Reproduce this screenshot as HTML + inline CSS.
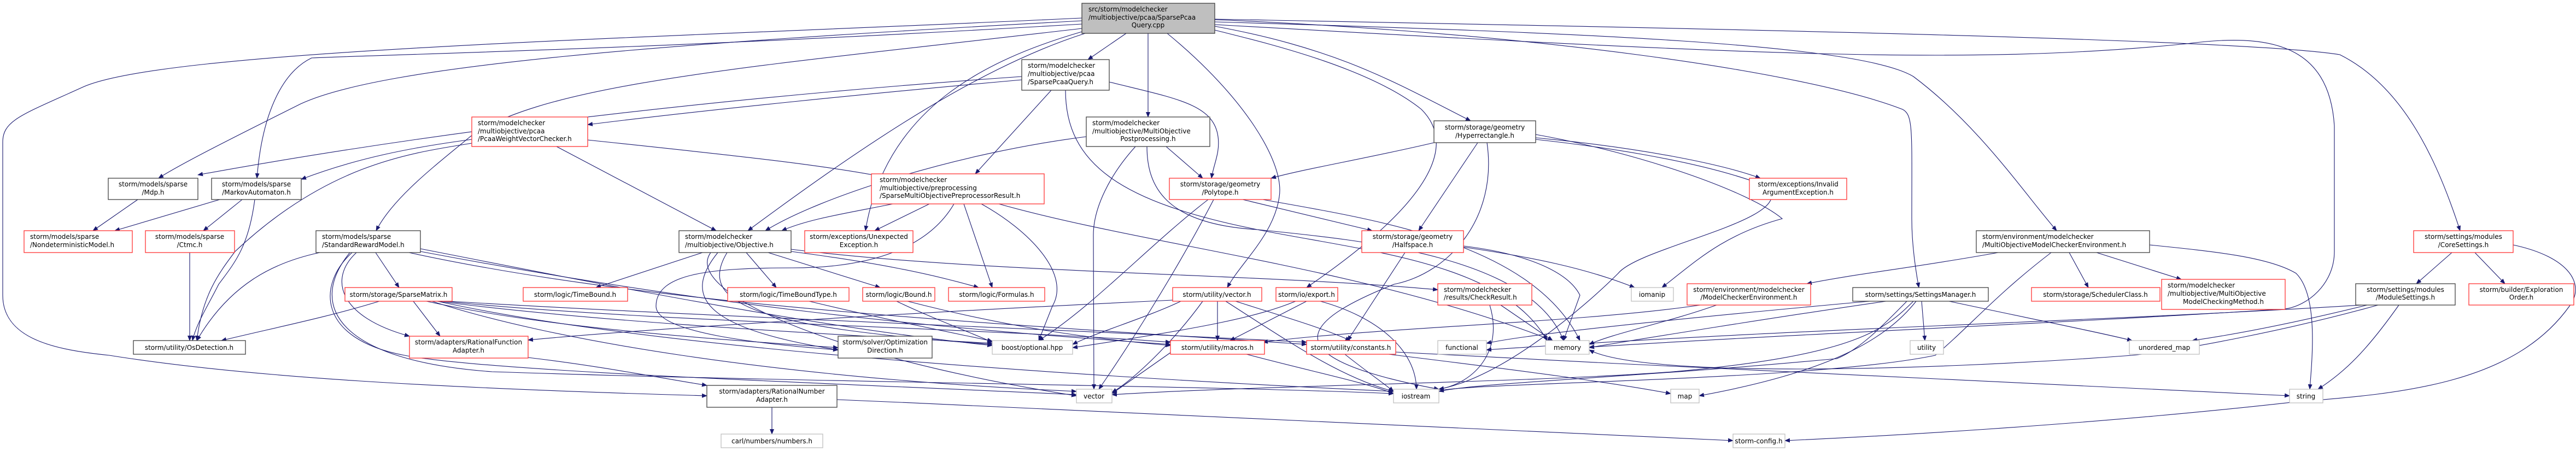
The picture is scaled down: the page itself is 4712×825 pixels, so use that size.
<!DOCTYPE html>
<html><head><meta charset="utf-8"><style>
html,body{margin:0;padding:0;background:#fff;}
svg{display:block;}
text{font-family:"DejaVu Sans","Liberation Sans",sans-serif;font-size:12px;fill:#000;}
.e{fill:none;stroke:#191970;stroke-width:1.1;marker-end:url(#a);}
.b{fill:#fff;stroke:#404040;stroke-width:1.3;}
.r{fill:#fff;stroke:#ff3333;stroke-width:1.3;}
.g{fill:#fff;stroke:#bfbfbf;stroke-width:1.3;}
</style></head><body>
<svg width="4712" height="825" viewBox="0 0 4712 825" xmlns="http://www.w3.org/2000/svg">
<defs><marker id="a" markerWidth="10" markerHeight="8" refX="9" refY="4" orient="auto" markerUnits="userSpaceOnUse"><path d="M0,0 L10,4 L0,8 z" fill="#191970"/></marker></defs>
<g>
<!-- root edges -->
<path class="e" d="M2060,61 L1990,109"/>
<path class="e" d="M2100,61 L2100,214"/>
<path class="e" d="M2135,61 C2280,180 2350,300 2340,360 C2330,430 2270,480 2245,526"/>
<path class="e" d="M2222,48 C2450,90 2550,150 2690,221"/>
<path class="e" d="M1985,61 C1800,120 1600,250 1368,422"/>
<path class="e" d="M1979,58 C1800,110 1620,200 1583,422"/>
<path class="e" d="M1979,38 C1200,80 700,120 550,190 C430,250 330,300 290,326"/>
<path class="e" d="M1979,44 C1200,90 700,100 570,106 C520,130 480,200 470,326"/>
<path class="e" d="M1979,52 C1400,120 1000,150 860,250 C800,300 720,360 688,422"/>
<path class="e" d="M1979,33 C1200,70 300,90 150,160 C40,210 5,220 5,260 L5,540 C5,620 100,640 200,650 C450,690 800,710 1293,724"/>
<path class="e" d="M2222,36 C2800,60 3300,130 3480,200 C3500,210 3497,240 3497,400 C3497,450 3505,500 3510,526"/>
<path class="e" d="M2222,40 C2900,60 3400,80 3500,140 C3620,230 3700,350 3762,422"/>
<path class="e" d="M2222,35 C3000,50 4100,70 4280,100 C4400,160 4460,300 4500,422"/>
<path class="e" d="M2222,45 C3200,100 3600,120 4000,80 C4150,60 4260,80 4270,230 L4270,460 C4270,520 4220,560 4180,565 C3800,590 3300,610 2907,635"/>
<path class="e" d="M2222,55 C2300,75 2500,120 2600,200 C2700,300 2500,450 2390,526"/>
<!-- SparsePcaaQuery -->
<path class="e" d="M1869,146 C1600,170 1300,200 1075,228"/>
<path class="e" d="M1923,165 L1784,318"/>
<path class="e" d="M2029,150 C2150,180 2220,190 2228,250 C2232,280 2220,300 2216,326"/>
<path class="e" d="M1949,165 C1949,300 2050,370 2300,420 C2500,460 2750,480 2830,623"/>
<path class="e" d="M1869,140 C1300,180 800,240 362,320"/>
<!-- PcaaWeightVectorChecker -->
<path class="e" d="M1018,268 L1310,422"/>
<path class="e" d="M1075,256 C1300,280 1500,300 1623,325"/>
<path class="e" d="M863,255 C750,270 650,290 551,328"/>
<path class="e" d="M863,262 C750,280 600,300 430,460 C400,500 370,540 360,623"/>
<!-- Postprocessing -->
<path class="e" d="M2133,268 L2200,326"/>
<path class="e" d="M2077,268 C2030,320 2000,380 2000,430 L2001,712"/>
<path class="e" d="M1987,250 C1750,280 1500,360 1400,422"/>
<path class="e" d="M2098,268 C2098,340 2130,410 2300,420 C2500,440 2800,470 2860,623"/>
<!-- Preprocessor -->
<path class="e" d="M1700,373 L1600,422"/>
<path class="e" d="M1763,373 L1815,526"/>
<path class="e" d="M1795,373 C1880,420 1960,500 1925,560 L1900,623"/>
<path class="e" d="M1633,373 C1550,390 1480,400 1430,422"/>
<path class="e" d="M1827,373 C2100,450 2500,490 2840,623"/>
<path class="e" d="M1745,373 C1700,450 1600,490 1450,490 C1300,490 1200,500 1200,560 C1200,610 1400,630 1533,640"/>
<!-- Polytope -->
<path class="e" d="M2273,365 L2510,422"/>
<path class="e" d="M2210,365 C2100,450 2000,560 1900,623"/>
<path class="e" d="M2220,365 C2150,500 2060,640 2010,712"/>
<path class="e" d="M2310,365 C2500,400 2800,440 2890,623"/>
<!-- Hyperrectangle -->
<path class="e" d="M2703,261 L2595,422"/>
<path class="e" d="M2623,261 C2500,290 2380,310 2325,326"/>
<path class="e" d="M2809,252 C3000,270 3150,300 3220,326"/>
<path class="e" d="M2720,261 C2740,400 2650,500 2550,520 C2400,580 2300,650 2632,712"/>
<path class="e" d="M2809,246 C3000,280 3200,350 3260,400 C3150,430 3100,480 3040,526"/>
<path class="e" d="M2809,255 C2900,265 3100,290 3230,340 C3300,400 3000,450 2960,500 C2900,560 2750,690 2632,712"/>
<!-- Halfspace -->
<path class="e" d="M2570,462 L2465,623"/>
<path class="e" d="M2677,452 C2800,470 2900,490 2990,526"/>
<path class="e" d="M2677,450 C2800,465 2870,500 2890,540 L2860,623"/>
<!-- Objective -->
<path class="e" d="M1285,462 L1090,526"/>
<path class="e" d="M1365,462 L1420,526"/>
<path class="e" d="M1405,462 L1610,526"/>
<path class="e" d="M1313,462 C1250,540 1280,600 1533,640"/>
<path class="e" d="M1330,462 C1270,560 1400,600 1815,630"/>
<path class="e" d="M1447,456 C1800,500 2300,500 2630,530"/>
<path class="e" d="M1300,462 C1250,530 1500,650 1969,724"/>
<path class="e" d="M1447,460 C1600,480 1700,500 1790,526"/>
<!-- StandardRewardModel -->
<path class="e" d="M687,462 L730,526"/>
<path class="e" d="M585,462 C500,480 420,520 360,623"/>
<path class="e" d="M652,462 C600,510 620,580 749,615"/>
<path class="e" d="M644,462 C580,520 580,620 740,650 C900,680 1500,700 1969,722"/>
<path class="e" d="M769,455 C1100,520 1500,600 1815,632"/>
<path class="e" d="M748,462 C1200,560 1800,590 2390,630"/>
<path class="e" d="M769,460 C1300,560 1700,600 2141,630"/>
<path class="e" d="M640,462 C560,560 620,660 900,680 C1500,700 2200,705 2549,720"/>
<!-- SparseMatrix -->
<path class="e" d="M694,551 C600,580 500,600 405,623"/>
<path class="e" d="M756,551 L805,615"/>
<path class="e" d="M780,551 C1000,600 1300,620 1533,636"/>
<path class="e" d="M800,551 C1100,590 1500,610 1815,628"/>
<path class="e" d="M810,551 C1200,590 1800,600 2141,626"/>
<path class="e" d="M820,551 C1300,580 1900,600 2390,626"/>
<path class="e" d="M790,551 C1000,620 1400,690 1969,716"/>
<path class="e" d="M800,551 C1200,640 2000,690 2549,716"/>
<!-- Markov / Mdp / Ctmc -->
<path class="e" d="M402,365 L210,422"/>
<path class="e" d="M443,365 L372,422"/>
<path class="e" d="M466,365 C455,450 430,480 400,520 C380,560 360,590 352,623"/>
<path class="e" d="M252,365 L170,422"/>
<path class="e" d="M347,462 L347,623"/>
<!-- Rational -->
<path class="e" d="M966,654 C1100,670 1200,690 1293,705"/>
<path class="e" d="M1412,745 L1412,794"/>
<path class="e" d="M1531,731 C2200,760 2900,790 3170,806"/>
<!-- vector.h -->
<path class="e" d="M2160,551 C2100,580 2000,610 1962,630"/>
<path class="e" d="M2227,551 L2227,623"/>
<path class="e" d="M2260,551 C2350,580 2420,600 2470,623"/>
<path class="e" d="M2242,551 C2350,620 2450,690 2549,716"/>
<path class="e" d="M2200,551 C2150,620 2080,690 2034,718"/>
<path class="e" d="M2145,549 C1700,570 1200,600 966,622"/>
<!-- export.h -->
<path class="e" d="M2390,551 L2250,623"/>
<path class="e" d="M2370,551 C2300,580 2200,600 1962,636"/>
<path class="e" d="M2415,551 C2520,580 2590,640 2591,712"/>
<!-- CheckResult -->
<path class="e" d="M2725,558 C2750,640 2700,700 2632,712"/>
<path class="e" d="M2745,558 L2840,623"/>
<!-- constants / macros -->
<path class="e" d="M2540,648 C2800,680 2950,700 3056,720"/>
<path class="e" d="M2553,644 C3200,680 4000,710 4188,724"/>
<path class="e" d="M2460,648 C2500,680 2530,700 2549,716"/>
<path class="e" d="M2280,648 C2400,680 2500,700 2549,720"/>
<path class="e" d="M2141,645 L2034,720"/>
<!-- MOMCE -->
<path class="e" d="M3655,462 C3500,490 3400,500 3305,519"/>
<path class="e" d="M3785,462 L3820,526"/>
<path class="e" d="M3835,462 L3990,511"/>
<path class="e" d="M3932,448 C4050,460 4150,470 4200,500 C4240,540 4230,650 4225,712"/>
<path class="e" d="M3752,462 C3650,540 3600,600 3540,650 C3300,700 2600,700 2632,718"/>
<!-- ModelCheckerEnvironment -->
<path class="e" d="M3140,558 C3050,590 2950,610 2907,630"/>
<path class="e" d="M3110,558 C2900,590 2500,600 2310,626"/>
<!-- SettingsManager -->
<path class="e" d="M3515,551 L3521,623"/>
<path class="e" d="M3565,551 C3700,580 3850,610 3900,623"/>
<path class="e" d="M3450,551 C3250,580 3000,620 2907,636"/>
<path class="e" d="M3420,551 C3100,580 2800,610 2719,628"/>
<path class="e" d="M3500,551 C3450,600 3400,650 3060,680 C2800,700 2300,705 2034,722"/>
<path class="e" d="M3505,551 C3450,620 3350,680 3108,724"/>
<path class="e" d="M3488,551 C3440,600 3400,640 3360,656 C3000,690 2700,700 2632,716"/>
<!-- CoreSettings -->
<path class="e" d="M4485,462 L4420,519"/>
<path class="e" d="M4527,462 L4582,519"/>
<path class="e" d="M4597,448 C4700,470 4730,520 4700,560 C4600,700 4400,720 4200,735 C3800,780 3400,800 3265,806"/>
<!-- ModuleSettings -->
<path class="e" d="M4388,558 C4330,640 4290,680 4240,712"/>
<path class="e" d="M4330,558 C4200,590 4100,610 4010,623"/>
<path class="e" d="M4350,558 C4200,600 4000,640 3900,650 C3500,680 3000,690 2907,640"/>
<path class="e" d="M4320,558 C3800,590 3300,600 2719,640"/>
<!-- Bound / TimeBoundType -->
<path class="e" d="M1660,551 C1850,600 2000,620 2141,632"/>
<path class="e" d="M1640,551 C1700,580 1780,610 1815,626"/>
<path class="e" d="M1480,551 C1600,580 1700,600 1815,624"/>
</g>
<!-- nodes -->
<g>
<rect x="1979" y="6" width="243" height="55" fill="#bfbfbf" stroke="#404040" stroke-width="1.3"/>
<text x="1991" y="21">src/storm/modelchecker</text><text x="1991" y="36">/multiobjective/pcaa/SparsePcaa</text><text x="2100" y="50" text-anchor="middle">Query.cpp</text>

<rect class="b" x="1869" y="109" width="160" height="56"/>
<text x="1880" y="124">storm/modelchecker</text><text x="1880" y="139">/multiobjective/pcaa</text><text x="1880" y="154">/SparsePcaaQuery.h</text>

<rect class="b" x="1987" y="214" width="226" height="54"/>
<text x="1998" y="229">storm/modelchecker</text><text x="1998" y="244">/multiobjective/MultiObjective</text><text x="2100" y="258" text-anchor="middle">Postprocessing.h</text>

<rect class="r" x="863" y="214" width="212" height="54"/>
<text x="874" y="229">storm/modelchecker</text><text x="874" y="244">/multiobjective/pcaa</text><text x="874" y="258">/PcaaWeightVectorChecker.h</text>

<rect class="b" x="2623" y="221" width="186" height="40"/>
<text x="2716" y="237" text-anchor="middle">storm/storage/geometry</text><text x="2716" y="252" text-anchor="middle">/Hyperrectangle.h</text>

<rect class="r" x="1594" y="318" width="316" height="55"/>
<text x="1609" y="333">storm/modelchecker</text><text x="1609" y="348">/multiobjective/preprocessing</text><text x="1609" y="362">/SparseMultiObjectivePreprocessorResult.h</text>

<rect class="b" x="198" y="326" width="164" height="39"/>
<text x="280" y="341" text-anchor="middle">storm/models/sparse</text><text x="280" y="356" text-anchor="middle">/Mdp.h</text>

<rect class="b" x="387" y="326" width="164" height="39"/>
<text x="469" y="341" text-anchor="middle">storm/models/sparse</text><text x="469" y="356" text-anchor="middle">/MarkovAutomaton.h</text>

<rect class="r" x="2139" y="326" width="186" height="39"/>
<text x="2232" y="341" text-anchor="middle">storm/storage/geometry</text><text x="2232" y="356" text-anchor="middle">/Polytope.h</text>

<rect class="r" x="3200" y="326" width="178" height="39"/>
<text x="3289" y="341" text-anchor="middle">storm/exceptions/Invalid</text><text x="3289" y="356" text-anchor="middle">ArgumentException.h</text>

<rect class="r" x="44" y="422" width="198" height="40"/>
<text x="55" y="437">storm/models/sparse</text><text x="55" y="452">/NondeterministicModel.h</text>

<rect class="r" x="266" y="422" width="163" height="40"/>
<text x="347" y="437" text-anchor="middle">storm/models/sparse</text><text x="347" y="452" text-anchor="middle">/Ctmc.h</text>

<rect class="b" x="578" y="422" width="191" height="40"/>
<text x="589" y="437">storm/models/sparse</text><text x="589" y="452">/StandardRewardModel.h</text>

<rect class="b" x="1242" y="422" width="205" height="40"/>
<text x="1253" y="437">storm/modelchecker</text><text x="1253" y="452">/multiobjective/Objective.h</text>

<rect class="r" x="1472" y="422" width="198" height="40"/>
<text x="1571" y="437" text-anchor="middle">storm/exceptions/Unexpected</text><text x="1571" y="452" text-anchor="middle">Exception.h</text>

<rect class="r" x="2491" y="422" width="186" height="40"/>
<text x="2584" y="437" text-anchor="middle">storm/storage/geometry</text><text x="2584" y="452" text-anchor="middle">/Halfspace.h</text>

<rect class="b" x="3615" y="422" width="317" height="40"/>
<text x="3626" y="437">storm/environment/modelchecker</text><text x="3626" y="452">/MultiObjectiveModelCheckerEnvironment.h</text>

<rect class="r" x="4415" y="422" width="182" height="40"/>
<text x="4506" y="437" text-anchor="middle">storm/settings/modules</text><text x="4506" y="452" text-anchor="middle">/CoreSettings.h</text>

<rect class="r" x="3954" y="511" width="226" height="55"/>
<text x="3965" y="526">storm/modelchecker</text><text x="3965" y="541">/multiobjective/MultiObjective</text><text x="4067" y="556" text-anchor="middle">ModelCheckingMethod.h</text>

<rect class="r" x="2630" y="519" width="172" height="39"/>
<text x="2641" y="534">storm/modelchecker</text><text x="2641" y="548">/results/CheckResult.h</text>

<rect class="r" x="3086" y="519" width="226" height="39"/>
<text x="3199" y="534" text-anchor="middle">storm/environment/modelchecker</text><text x="3199" y="548" text-anchor="middle">/ModelCheckerEnvironment.h</text>

<rect class="b" x="4309" y="519" width="182" height="39"/>
<text x="4400" y="534" text-anchor="middle">storm/settings/modules</text><text x="4400" y="548" text-anchor="middle">/ModuleSettings.h</text>

<rect class="r" x="4516" y="519" width="192" height="39"/>
<text x="4612" y="534" text-anchor="middle">storm/builder/Exploration</text><text x="4612" y="548" text-anchor="middle">Order.h</text>

<rect class="r" x="631" y="526" width="196" height="25"/><text x="729" y="543" text-anchor="middle">storm/storage/SparseMatrix.h</text>
<rect class="r" x="957" y="526" width="191" height="25"/><text x="1052" y="543" text-anchor="middle">storm/logic/TimeBound.h</text>
<rect class="r" x="1331" y="526" width="222" height="25"/><text x="1442" y="543" text-anchor="middle">storm/logic/TimeBoundType.h</text>
<rect class="r" x="1578" y="526" width="132" height="25"/><text x="1644" y="543" text-anchor="middle">storm/logic/Bound.h</text>
<rect class="r" x="1735" y="526" width="176" height="25"/><text x="1823" y="543" text-anchor="middle">storm/logic/Formulas.h</text>
<rect class="r" x="2145" y="526" width="163" height="25"/><text x="2226" y="543" text-anchor="middle">storm/utility/vector.h</text>
<rect class="r" x="2334" y="526" width="113" height="25"/><text x="2390" y="543" text-anchor="middle">storm/io/export.h</text>
<rect class="g" x="2984" y="526" width="77" height="25"/><text x="3022" y="543" text-anchor="middle">iomanip</text>
<rect class="b" x="3389" y="526" width="248" height="25"/><text x="3513" y="543" text-anchor="middle">storm/settings/SettingsManager.h</text>
<rect class="r" x="3716" y="526" width="235" height="25"/><text x="3833" y="543" text-anchor="middle">storm/storage/SchedulerClass.h</text>

<rect class="r" x="749" y="615" width="217" height="40"/>
<text x="857" y="630" text-anchor="middle">storm/adapters/RationalFunction</text><text x="857" y="645" text-anchor="middle">Adapter.h</text>
<rect class="b" x="1533" y="615" width="172" height="40"/>
<text x="1619" y="630" text-anchor="middle">storm/solver/Optimization</text><text x="1619" y="645" text-anchor="middle">Direction.h</text>

<rect class="b" x="244" y="623" width="205" height="25"/><text x="346" y="640" text-anchor="middle">storm/utility/OsDetection.h</text>
<rect class="g" x="1815" y="623" width="147" height="25"/><text x="1888" y="640" text-anchor="middle">boost/optional.hpp</text>
<rect class="r" x="2141" y="623" width="172" height="25"/><text x="2227" y="640" text-anchor="middle">storm/utility/macros.h</text>
<rect class="r" x="2390" y="623" width="163" height="25"/><text x="2471" y="640" text-anchor="middle">storm/utility/constants.h</text>
<rect class="g" x="2630" y="623" width="89" height="25"/><text x="2674" y="640" text-anchor="middle">functional</text>
<rect class="g" x="2827" y="623" width="80" height="25"/><text x="2867" y="640" text-anchor="middle">memory</text>
<rect class="g" x="3494" y="623" width="61" height="25"/><text x="3524" y="640" text-anchor="middle">utility</text>
<rect class="g" x="3895" y="623" width="128" height="25"/><text x="3959" y="640" text-anchor="middle">unordered_map</text>

<rect class="b" x="1293" y="705" width="238" height="40"/>
<text x="1412" y="720" text-anchor="middle">storm/adapters/RationalNumber</text><text x="1412" y="735" text-anchor="middle">Adapter.h</text>
<rect class="g" x="1969" y="712" width="65" height="25"/><text x="2001" y="729" text-anchor="middle">vector</text>
<rect class="g" x="2549" y="712" width="83" height="25"/><text x="2590" y="729" text-anchor="middle">iostream</text>
<rect class="g" x="3056" y="712" width="52" height="25"/><text x="3082" y="729" text-anchor="middle">map</text>
<rect class="g" x="4188" y="712" width="61" height="25"/><text x="4218" y="729" text-anchor="middle">string</text>

<rect class="g" x="1319" y="794" width="186" height="25"/><text x="1412" y="811" text-anchor="middle">carl/numbers/numbers.h</text>
<rect class="g" x="3170" y="794" width="95" height="25"/><text x="3217" y="811" text-anchor="middle">storm-config.h</text>
</g>
</svg>
</body></html>
